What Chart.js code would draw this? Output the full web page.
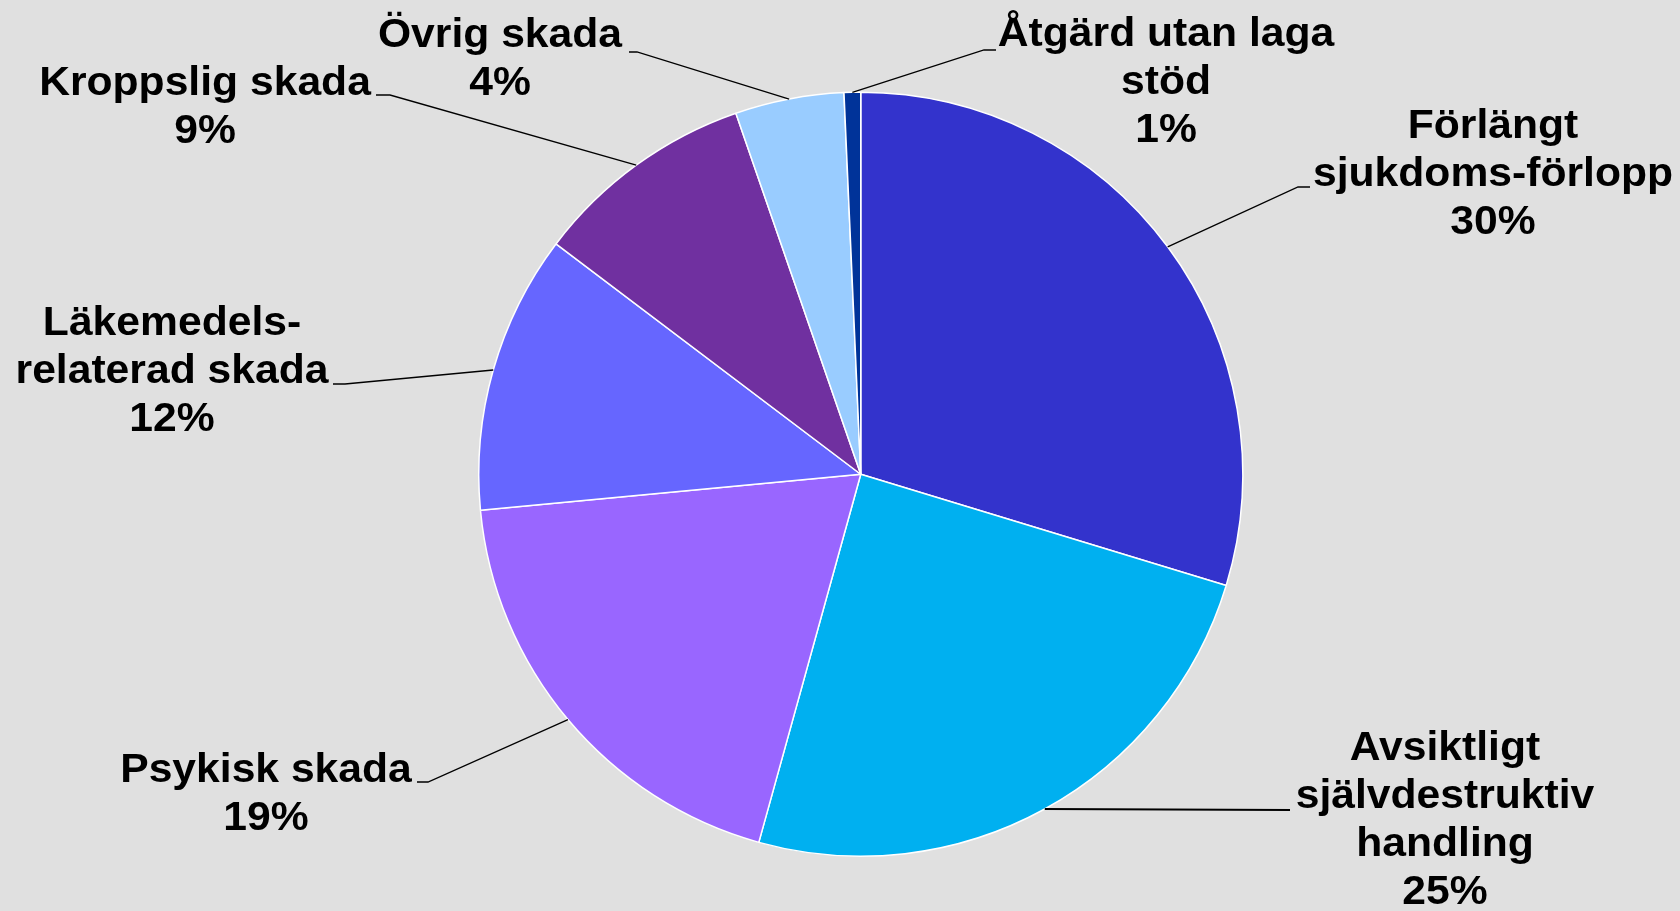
<!DOCTYPE html>
<html>
<head>
<meta charset="utf-8">
<script src="https://cdn.jsdelivr.net/npm/chart.js@4.4.0/dist/chart.umd.min.js"></script>
<style>
html, body { margin: 0; padding: 0; background: #e0e0e0; overflow: hidden; }
#wrap { width: 1680px; height: 911px; position: relative; }
canvas { display: block; }
</style>
</head>
<body>
<div id="wrap"><canvas id="c" width="1680" height="911"></canvas></div>
<script>
// ---- Data ----
const categories = [
  'Förlängt sjukdoms-förlopp',
  'Avsiktligt självdestruktiv handling',
  'Psykisk skada',
  'Läkemedels-relaterad skada',
  'Kroppslig skada',
  'Övrig skada',
  'Åtgärd utan laga stöd'
];
const labelLines = [
  ['Förlängt', 'sjukdoms-förlopp'],
  ['Avsiktligt', 'självdestruktiv', 'handling'],
  ['Psykisk skada'],
  ['Läkemedels-', 'relaterad skada'],
  ['Kroppslig skada'],
  ['Övrig skada'],
  ['Åtgärd utan laga', 'stöd']
];
const shares = [29.7, 24.6, 19.2, 11.8, 9.4, 4.6, 0.7];
const percentLabels = ['30%', '25%', '19%', '12%', '9%', '4%', '1%'];

// ---- Styles / layout ----
const sliceColors = ['#3333CC', '#00B0F0', '#9966FF', '#6666FF', '#7030A0', '#99CCFF', '#003399'];
const labelLayout = [
  { cx: 1493, y: 138, elbow: [1298, 187], tail: [1310, 187], lw: 1.3 },
  { cx: 1445, y: 760, elbow: [1290, 810], tail: [1290, 810], lw: 1.8 },
  { cx: 266,  y: 782, elbow: [428, 782],  tail: [417, 782], lw: 1.3 },
  { cx: 172,  y: 335, elbow: [345, 384],  tail: [333, 384], lw: 1.3 },
  { cx: 205,  y: 95,  elbow: [390, 95],   tail: [376, 95], lw: 1.3 },
  { cx: 500,  y: 47,  elbow: [637, 52],   tail: [629, 52], lw: 1.3 },
  { cx: 1166, y: 46,  elbow: [984, 50],   tail: [996, 50], lw: 1.3 }
];
const LINE_H = 48;
const FONT = 'bold 41px "Liberation Sans", Arial, sans-serif';
const XSCALE = 1.04;

const bgPlugin = {
  id: 'bg',
  beforeDraw(chart) {
    const ctx = chart.ctx;
    ctx.save();
    ctx.fillStyle = '#e0e0e0';
    ctx.fillRect(0, 0, chart.width, chart.height);
    ctx.restore();
  }
};

const labelPlugin = {
  id: 'outLabels',
  afterDraw(chart) {
    const ctx = chart.ctx;
    const meta = chart.getDatasetMeta(0);
    ctx.save();
    meta.data.forEach((arc, i) => {
      const p = arc.getProps(['x', 'y', 'startAngle', 'endAngle', 'outerRadius'], true);
      const mid = (p.startAngle + p.endAngle) / 2;
      const sx = p.x + Math.cos(mid) * p.outerRadius;
      const sy = p.y + Math.sin(mid) * p.outerRadius;
      const L = labelLayout[i];
      ctx.strokeStyle = '#000';
      ctx.lineWidth = L.lw;
      ctx.beginPath();
      ctx.moveTo(sx, sy);
      ctx.lineTo(L.elbow[0], L.elbow[1]);
      ctx.lineTo(L.tail[0], L.tail[1]);
      ctx.stroke();

      const lines = labelLines[i].concat([percentLabels[i]]);
      ctx.fillStyle = '#000';
      ctx.font = FONT;
      ctx.textAlign = 'center';
      ctx.textBaseline = 'alphabetic';
      lines.forEach((t, k) => {
        ctx.save();
        ctx.translate(L.cx, L.y + k * LINE_H);
        ctx.scale(XSCALE, 1);
        ctx.fillText(t, 0, 0);
        ctx.restore();
      });
    });
    ctx.restore();
  }
};

new Chart(document.getElementById('c'), {
  type: 'pie',
  data: {
    labels: categories,
    datasets: [{
      data: shares,
      backgroundColor: sliceColors,
      borderColor: '#ffffff',
      borderWidth: 1.5
    }]
  },
  options: {
    responsive: false,
    devicePixelRatio: 1,
    animation: false,
    events: [],
    layout: { padding: { left: 478, right: 436.5, top: 91.5, bottom: 54 } },
    plugins: {
      legend: { display: false },
      tooltip: { enabled: false }
    }
  },
  plugins: [bgPlugin, labelPlugin]
});
</script>
</body>
</html>
